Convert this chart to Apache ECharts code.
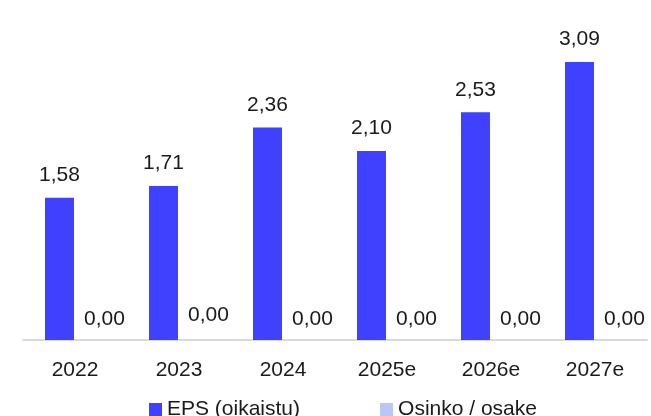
<!DOCTYPE html>
<html><head><meta charset="utf-8">
<script src="https://cdn.jsdelivr.net/npm/echarts@6/dist/echarts.min.js"></script>
<style>html,body{margin:0;padding:0;background:#fff}#c{width:651px;height:416px}</style>
</head><body><div id="c"></div>
<script>
const categories = ['2022','2023','2024','2025e','2026e','2027e'];
const epsValues = [1.58, 1.71, 2.36, 2.10, 2.53, 3.09];
const dividendValues = [0.00, 0.00, 0.00, 0.00, 0.00, 0.00];
const seriesNames = ['EPS (oikaistu)', 'Osinko / osake'];

const FONT = '"Liberation Sans", Arial, sans-serif';
const fmt = p => p.value.toFixed(2).replace('.', ',');
const chart = echarts.init(document.getElementById('c'), null, {renderer:'canvas'});
chart.setOption({
  animation: false,
  textStyle: {fontFamily: FONT},
  grid: {left: 23, right: 4, top: 25, bottom: 76, containLabel: false},
  legend: {
    data: seriesNames, left: 149, top: 399, padding: 0, itemWidth: 13, itemHeight: 13, itemGap: 80,
    icon: 'rect',
    textStyle: {fontSize: 21, color: '#1a1a1a', fontFamily: FONT}
  },
  xAxis: {
    type: 'category', data: categories,
    axisLine: {show: true, lineStyle: {color: '#d9d9d9', width: 2}},
    axisTick: {show: false},
    axisLabel: {fontSize: 21, color: '#1a1a1a', margin: 20, fontFamily: FONT}
  },
  yAxis: {type: 'value', min: 0, max: 3.5, show: false, splitLine: {show: false}},
  series: [
    {name: seriesNames[0], type: 'bar', data: epsValues, barWidth: 29, barGap: '7%',
     itemStyle: {color: '#4040ff'},
     label: {show: true, position: 'top', distance: 12, fontSize: 21, color: '#1a1a1a', formatter: fmt, fontFamily: FONT}},
    {name: seriesNames[1], type: 'bar', data: dividendValues.map((v, i) => i === 1 ? {value: v, label: {offset: [14, -4]}} : v), barWidth: 29,
     itemStyle: {color: '#b8c6f8'},
     label: {show: true, position: 'top', distance: 10, offset: [14, 0], fontSize: 21, color: '#1a1a1a', formatter: fmt, fontFamily: FONT}}
  ]
});
</script></body></html>
